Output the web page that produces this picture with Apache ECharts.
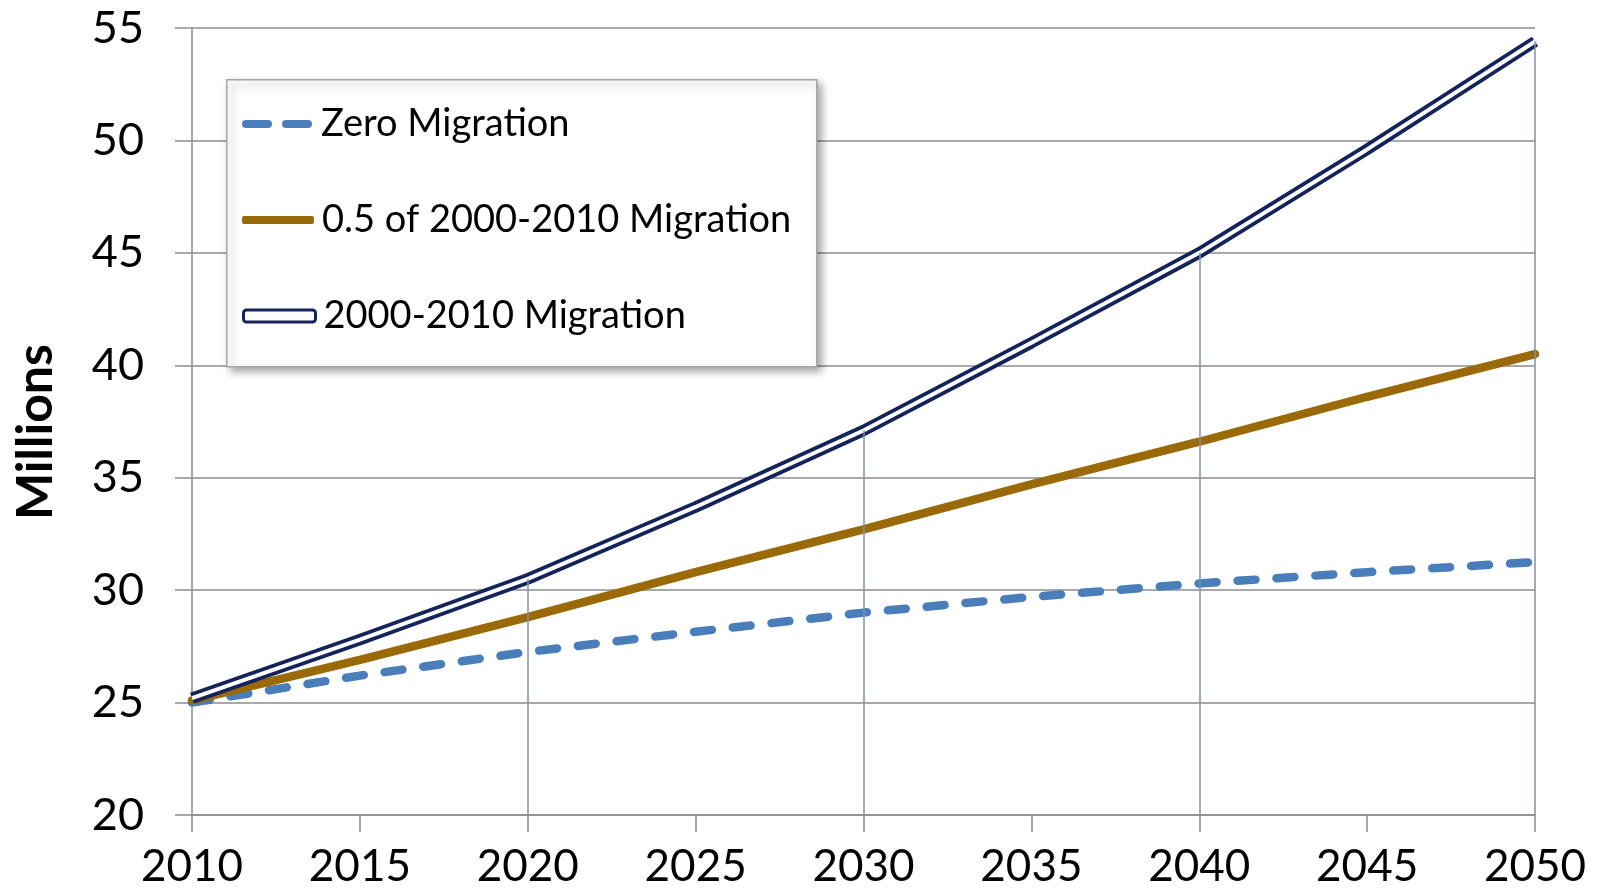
<!DOCTYPE html>
<html>
<head>
<meta charset="utf-8">
<script src="https://cdn.jsdelivr.net/npm/echarts@6/dist/echarts.min.js"></script>
<style>
html,body{margin:0;padding:0;background:#fff;}
#chart{width:1599px;height:890px;}
</style>
</head>
<body>
<div id="chart"></div>
<script>
// ---- data ----
const years = [2010, 2015, 2020, 2025, 2030, 2035, 2040, 2045, 2050];
const zeroMigration = [25.0, 26.2, 27.25, 28.15, 29.0, 29.7, 30.3, 30.8, 31.25];
const halfMigration = [25.1, 26.9, 28.8, 30.8, 32.7, 34.7, 36.6, 38.6, 40.5];
const fullMigration = [25.2, 27.8, 30.5, 33.7, 37.1, 41.0, 45.0, 49.6, 54.4];
const dropYears = [2020, 2030, 2040, 2050];
const seriesNames = ['Zero Migration', '0.5 of 2000-2010 Migration', '2000-2010 Migration'];
const yAxisName = 'Millions';
const yMin = 20, yMax = 55, yStep = 5;
const xMin = 2010, xMax = 2050, xStep = 5;

const pairs = arr => years.map((y, i) => [y, arr[i]]);
const dropLines = dropYears.map(yr => {
  const v = fullMigration[years.indexOf(yr)];
  return [{coord: [yr, v]}, {coord: [yr, yMin]}];
});

const font = 'Lato, "Open Sans", sans-serif';
const blue = '#4a7ebb', brown = '#9a6a08', navy = '#14235a';
const legendText = {color: '#000', fontSize: 38, fontFamily: font, lineHeight: 44, padding: [0, 0, 0, 3]};
const dashIcon = 'path://M4,0 H26 A4,4 0 0 1 26,8 H4 A4,4 0 0 1 4,0 Z M44,0 H66 A4,4 0 0 1 66,8 H44 A4,4 0 0 1 44,0 Z';
function legendFor(name, top, icon, h, style) {
  return {
    orient: 'vertical', left: 242, top: top, padding: 0, z: 6,
    data: [{name: name, icon: icon, itemStyle: style}],
    itemWidth: 72, itemHeight: h,
    textStyle: legendText, selectedMode: false
  };
}

const chart = echarts.init(document.getElementById('chart'));
chart.setOption({
  animation: false,
  grid: {left: 192, right: 64, top: 28, bottom: 75},
  xAxis: {
    type: 'value', min: xMin, max: xMax, interval: xStep,
    axisLine: {show: true, lineStyle: {color: '#8c8c8c', width: 1.5}},
    axisTick: {show: true, length: 17, lineStyle: {color: '#8c8c8c', width: 1.5}},
    axisLabel: {color: '#000', fontSize: 44, fontFamily: font, margin: 30, formatter: v => String(v)},
    splitLine: {show: false}
  },
  yAxis: {
    type: 'value', min: yMin, max: yMax, interval: yStep,
    axisLine: {show: true, lineStyle: {color: '#8c8c8c', width: 1.5}},
    axisTick: {show: true, length: 17, lineStyle: {color: '#8c8c8c', width: 1.5}},
    axisLabel: {color: '#000', fontSize: 45, fontFamily: font, margin: 48},
    splitLine: {show: true, lineStyle: {color: '#8c8c8c', width: 1.5}}
  },
  graphic: [
    {
      type: 'rect', z: 5, left: 226, top: 79,
      shape: {width: 590, height: 287},
      style: {fill: '#fff', stroke: '#a6a6a6', lineWidth: 1.5,
              shadowColor: 'rgba(0,0,0,0.35)', shadowBlur: 8, shadowOffsetX: 4, shadowOffsetY: 4}
    },
    {
      type: 'text', z: 5, x: 36, y: 432, rotation: Math.PI / 2,
      style: {text: yAxisName, fill: '#000', font: 'bold 50px ' + font, align: 'center', verticalAlign: 'middle'}
    }
  ],
  legend: [
    legendFor(seriesNames[0], 102, dashIcon, 8, {color: blue}),
    legendFor(seriesNames[1], 198, 'roundRect', 8, {color: brown}),
    legendFor(seriesNames[2], 294, 'roundRect', 12, {color: '#fff', borderColor: navy, borderWidth: 3})
  ],
  series: [
    {
      name: 'drops', type: 'line', data: [], z: 1, silent: true,
      markLine: {
        silent: true, symbol: 'none', label: {show: false},
        lineStyle: {color: '#7d93ad', width: 1.5, type: 'solid'},
        data: dropLines
      }
    },
    {
      name: seriesNames[0], type: 'line', data: pairs(zeroMigration), showSymbol: false, symbol: 'none', z: 2,
      lineStyle: {color: blue, width: 8.5, type: [18, 21], cap: 'round'},
      itemStyle: {color: blue}
    },
    {
      name: seriesNames[1], type: 'line', data: pairs(halfMigration), showSymbol: false, symbol: 'none', z: 3,
      lineStyle: {color: brown, width: 8.5, cap: 'round'},
      itemStyle: {color: brown}
    },
    {
      name: seriesNames[2], type: 'line', data: pairs(fullMigration), showSymbol: false, symbol: 'none', z: 4,
      lineStyle: {color: navy, width: 11.5},
      itemStyle: {color: navy}
    },
    {
      name: 'inner', type: 'line', data: pairs(fullMigration), showSymbol: false, symbol: 'none', z: 4,
      lineStyle: {color: '#ffffff', width: 4},
      itemStyle: {color: '#ffffff'}
    }
  ]
});
</script>
</body>
</html>
